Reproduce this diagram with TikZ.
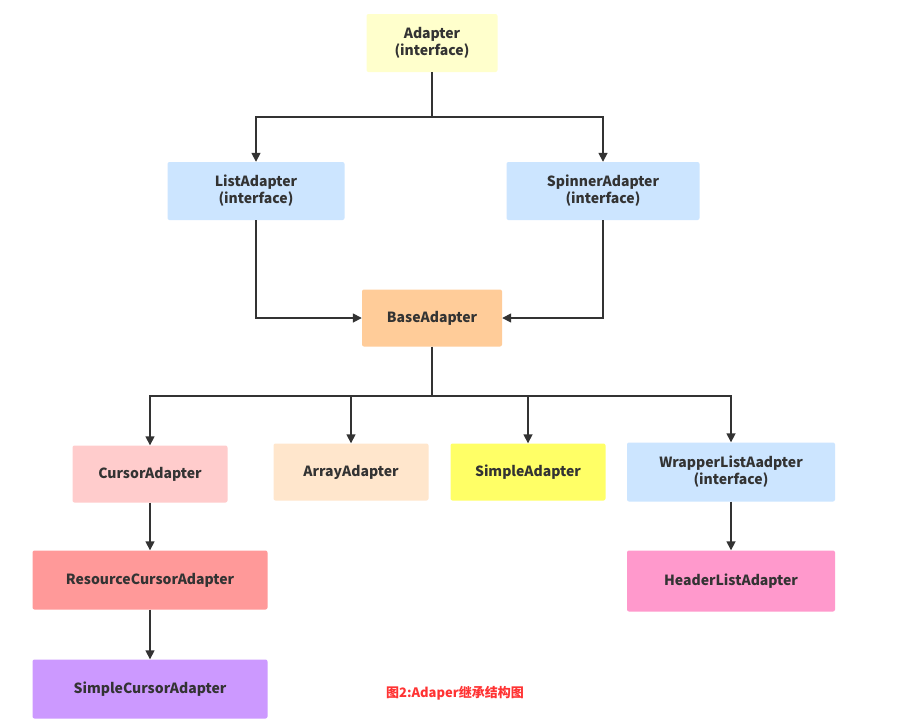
\documentclass[tikz,border=0pt]{standalone}
\usepackage{fontspec}
\setmainfont{Noto Sans CJK SC}
\usetikzlibrary{arrows.meta}
\definecolor{txt}{HTML}{333333}
\definecolor{ln}{HTML}{333333}
\begin{document}
\begin{tikzpicture}[x=1pt,y=-1pt,
  box/.style={draw=none,rounded corners=2pt,minimum height=58pt,align=center,text=txt,font=\fontsize{14}{17}\selectfont\bfseries,inner sep=0pt},
  arr/.style={draw=ln,line width=1.6pt,-{Triangle[length=9pt,width=9pt]}},
  ln/.style={draw=ln,line width=1.6pt}]
\useasboundingbox[fill=white] (0,0) rectangle (910,721);
\node[box,fill={rgb,255:red,255;green,255;blue,204},minimum width=131pt] (ad) at (432,43) {Adapter\\(interface)};
\node[box,fill={rgb,255:red,204;green,229;blue,255},minimum width=177pt] (la) at (256,191) {ListAdapter\\(interface)};
\node[box,fill={rgb,255:red,204;green,229;blue,255},minimum width=193pt] (sa) at (603,191) {SpinnerAdapter\\(interface)};
\node[box,fill={rgb,255:red,255;green,204;blue,153},minimum width=140pt,minimum height=57pt] (ba) at (432,318) {BaseAdapter};
\node[box,fill={rgb,255:red,255;green,204;blue,204},minimum width=155pt,minimum height=57pt] (ca) at (150,474) {CursorAdapter};
\node[box,fill={rgb,255:red,255;green,230;blue,204},minimum width=155pt,minimum height=57pt] (ar) at (351,472) {ArrayAdapter};
\node[box,fill={rgb,255:red,255;green,255;blue,102},minimum width=155pt,minimum height=57pt] (si) at (528,472) {SimpleAdapter};
\node[box,fill={rgb,255:red,204;green,229;blue,255},minimum width=208pt,minimum height=59pt] (wl) at (731,472) {WrapperListAadpter\\(interface)};
\node[box,fill={rgb,255:red,255;green,153;blue,153},minimum width=235pt,minimum height=59pt] (rc) at (150,580) {ResourceCursorAdapter};
\node[box,fill={rgb,255:red,255;green,153;blue,204},minimum width=208pt,minimum height=61pt] (hl) at (731,581) {HeaderListAdapter};
\node[box,fill={rgb,255:red,204;green,153;blue,255},minimum width=235pt,minimum height=59pt] (sc) at (150,689) {SimpleCursorAdapter};
\node[text={rgb,255:red,255;green,51;blue,51},font=\fontsize{13}{15}\selectfont\bfseries] (cap) at (455,693) {图2:Adaper继承结构图};
\coordinate (j1) at (432,117);
\coordinate (j2) at (432,396);
\draw[ln] (ad.south) -- (j1);
\draw[arr] (j1) -| (la.north);
\draw[arr] (j1) -| (sa.north);
\draw[arr] (la.south) |- (ba.west);
\draw[arr] (sa.south) |- (ba.east);
\draw[ln] (ba.south) -- (j2);
\draw[arr] (j2) -| (ca.north);
\draw[arr] (j2) -| (ar.north);
\draw[arr] (j2) -| (si.north);
\draw[arr] (j2) -| (wl.north);
\draw[arr] (ca.south) -- (rc.north);
\draw[arr] (rc.south) -- (sc.north);
\draw[arr] (wl.south) -- (hl.north);
\end{tikzpicture}
\end{document}
